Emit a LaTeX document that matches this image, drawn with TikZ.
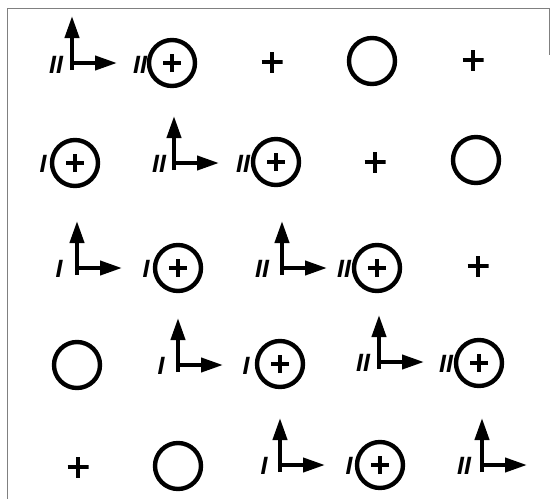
\documentclass[tikz,border=0pt]{standalone}
\usepackage{fontspec}
\newfontfamily\labfont{Liberation Sans}
\usetikzlibrary{arrows.meta}
\begin{document}
\begin{tikzpicture}[x=1pt,y=-1pt,
  ring/.style={circle,draw,line width=4.4pt,minimum size=46pt,inner sep=0pt},
  ringplus/.style={ring,path picture={
     \draw[line width=3.6pt] ([xshift=-9pt]path picture bounding box.center) -- ([xshift=9pt]path picture bounding box.center);
     \draw[line width=3.6pt] ([yshift=-9pt]path picture bounding box.center) -- ([yshift=9pt]path picture bounding box.center);}},
  cross/.style={minimum size=21pt,inner sep=0pt,path picture={
     \draw[line width=4pt] ([xshift=-10.5pt]path picture bounding box.center) -- ([xshift=10.5pt]path picture bounding box.center);
     \draw[line width=4pt] ([yshift=-10.5pt]path picture bounding box.center) -- ([yshift=10.5pt]path picture bounding box.center);}},
  axline/.style={line width=4pt,-{Triangle[length=22pt,width=14pt]}},
  axes/.pic={\draw[axline] (0,7) -- (0,-47); \draw[axline] (-2,0) -- (45,0);},
  lab/.style={font=\labfont\bfseries\itshape\fontsize{25}{25}\selectfont,inner sep=0pt},
  frame/.style={draw=black!50,line width=0.9pt}
]
\useasboundingbox (0,0) rectangle (550,499);
\coordinate (fa) at (7,499);
\coordinate (fb) at (7,8);
\coordinate (fc) at (549,8);
\coordinate (fd) at (549,55);
\draw[frame] (fa) -- (fb) -- (fc) -- (fd);

% row 1
\coordinate (o11) at (72,63); \pic at (o11) {axes};
\node[lab] (l11) at (56,65) {II};
\node[ringplus] (c12) at (172,63) {};
\node[lab] (l12) at (140,65) {II};
\node[cross] (p13) at (272,62) {};
\node[ring] (c14) at (372,61) {};
\node[cross] (p15) at (473,60) {};

% row 2
\node[ringplus] (c21) at (75,163) {};
\node[lab] (l21) at (43,164) {I};
\coordinate (o22) at (174,163); \pic at (o22) {axes};
\node[lab] (l22) at (159,164) {II};
\node[ringplus] (c23) at (276,162) {};
\node[lab] (l23) at (243,164) {II};
\node[cross] (p24) at (375,162) {};
\node[ring] (c25) at (476,160) {};

% row 3
\coordinate (o31) at (77,268); \pic at (o31) {axes};
\node[lab] (l31) at (59,269) {I};
\node[ringplus] (c32) at (178,268) {};
\node[lab] (l32) at (146,269) {I};
\coordinate (o33) at (282,268); \pic at (o33) {axes};
\node[lab] (l33) at (262,269) {II};
\node[ringplus] (c34) at (377,268) {};
\node[lab] (l34) at (344,269) {II};
\node[cross] (p35) at (478,266) {};

% row 4
\node[ring] (c41) at (77,365) {};
\coordinate (o42) at (178,365); \pic at (o42) {axes};
\node[lab] (l42) at (161,366) {I};
\node[ringplus] (c43) at (280,364) {};
\node[lab] (l43) at (246,366) {I};
\coordinate (o44) at (379,362); \pic at (o44) {axes};
\node[lab] (l44) at (363,363) {II};
\node[ringplus] (c45) at (479,363) {};
\node[lab] (l45) at (446,364) {II};

% row 5
\node[cross] (p51) at (78,467) {};
\node[ring] (c52) at (178,466) {};
\coordinate (o53) at (280,465); \pic at (o53) {axes};
\node[lab] (l53) at (264,466) {I};
\node[ringplus] (c54) at (380,465) {};
\node[lab] (l54) at (349,466) {I};
\coordinate (o55) at (482,465); \pic at (o55) {axes};
\node[lab] (l55) at (464,466) {II};
\end{tikzpicture}
\end{document}
